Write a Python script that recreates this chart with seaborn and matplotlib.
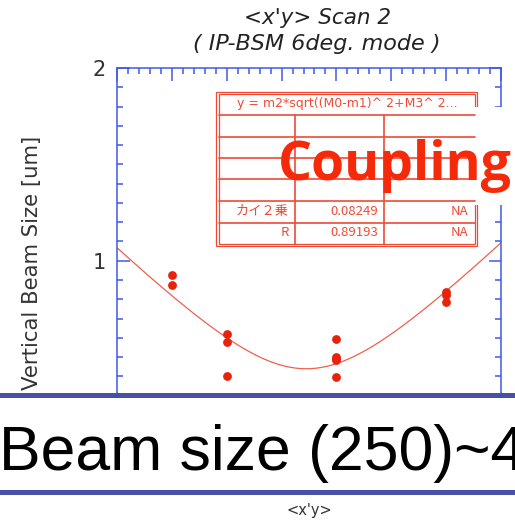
import numpy as np
import matplotlib
matplotlib.use("Agg")
import matplotlib.pyplot as plt
from matplotlib.patches import Rectangle
from matplotlib.ticker import MultipleLocator, FixedLocator
import seaborn as sns

# knob setting of each measurement and the measured vertical beam size [um]
scan_x = [10, 10, 20, 20, 20, 40, 40, 40, 40, 40, 60, 60, 60]
beam_size = [0.927, 0.872, 0.620, 0.578, 0.402, 0.595, 0.503, 0.490, 0.483,
             0.396, 0.838, 0.824, 0.784]

# fit y = m2*sqrt((M0-m1)^2 + M3^2)
fit_m1 = 34.5
fit_m2 = 0.0282
fit_m3 = 15.6
fit_rows = [["カイ２乗", "0.08249", "NA"], ["R", "0.89193", "NA"]]
fit_formula = "y = m2*sqrt((M0-m1)^ 2+M3^ 2..."

y_ticks = [1, 2]
y_tick_labels = ["1", "2"]

title_lines = ["<x'y> Scan 2", "( IP-BSM 6deg. mode )"]
y_label = "Vertical Beam Size [um]"
x_label = "<x'y>"
overlay_word = "Coupling"
banner_text = "Beam size (250)~4"

sns.set_style("white")
plt.rcParams["font.family"] = ["DejaVu Sans"]

W, H = 515, 524
fig = plt.figure(figsize=(W / 100, H / 100), dpi=100)

axis_blue = "#4058e4"
point_red = "#e8230c"
fit_red = "#f0604c"
table_red = "#f04a35"

# main scan axes
ax = fig.add_axes([117 / W, 1 - 415 / H, 384 / W, 347 / H])
x_fit = np.linspace(0, 70, 300)
y_fit = fit_m2 * np.sqrt((x_fit - fit_m1) ** 2 + fit_m3 ** 2)
sns.lineplot(x=x_fit, y=y_fit, ax=ax, color=fit_red, lw=0.9, zorder=2)
sns.scatterplot(x=scan_x, y=beam_size, ax=ax, s=40, color=point_red,
                linewidth=0, zorder=3)

ax.set_xlim(0, 70)
ax.set_ylim(0.2, 2.0)
ax.xaxis.set_major_locator(MultipleLocator(10))
ax.xaxis.set_minor_locator(MultipleLocator(2))
ax.yaxis.set_major_locator(FixedLocator(y_ticks))
ax.yaxis.set_minor_locator(MultipleLocator(0.1))
ax.set_yticklabels(y_tick_labels)
ax.tick_params(which="both", direction="in", top=True, bottom=True,
               left=True, right=True, color=axis_blue, width=1.1,
               labelbottom=False, labeltop=False, labelright=False)
ax.tick_params(which="major", length=9)
ax.tick_params(which="minor", length=4.5)
ax.tick_params(axis="y", labelsize=15, labelcolor="#333333", pad=8)
for sp in ax.spines.values():
    sp.set_color(axis_blue)
    sp.set_linewidth(1.1)
ax.set_xlabel("")
ax.set_ylabel("")

# overlay in pixel coordinates for annotations
ov = fig.add_axes([0, 0, 1, 1])
ov.set_xlim(0, W)
ov.set_ylim(H, 0)
ov.axis("off")
ov.set_zorder(5)
ov.patch.set_alpha(0)

for i, (line, size) in enumerate(zip(title_lines, [15.5, 16])):
    ov.text(317, 17.5 + 27 * i, line, ha="center", va="center",
            fontsize=size, style="italic", color="#222222")

ov.text(32.5, 263, y_label, rotation=90, ha="center", va="center",
        fontsize=15.3, color="#333333")

# fit result table
ov.add_patch(Rectangle((216, 91.5), 261, 154.5, fill=False,
                       ec=table_red, lw=0.9))
ov.add_patch(Rectangle((218.5, 94), 256, 149.5, fill=False,
                       ec=table_red, lw=0.9))
for yy in [115, 136.7, 158.3, 179.3, 200.7, 222.7]:
    ov.plot([218.5, 474.5], [yy, yy], color=table_red, lw=1.2)
for xx in [295, 384]:
    ov.plot([xx, xx], [115, 243.5], color=table_red, lw=1.2)
ov.text(347, 104, fit_formula, ha="center", va="center", fontsize=9,
        color=table_red)
for r, row in enumerate(fit_rows):
    yy = 211.7 + 21 * r
    for xx, cell in zip([289, 378, 468], row):
        ov.text(xx, yy, cell, ha="right", va="center", fontsize=9.5,
                color=table_red,
                family=["Noto Sans CJK JP", "DejaVu Sans"])

# highlighted label box
ov.add_patch(Rectangle((258, 107), 262, 98, color="white", lw=0))
ov.text(278, 180, overlay_word, ha="left", va="baseline", fontsize=38.5,
        fontweight="bold", family="Open Sans", color="#f52a0a")

# banner strip across the lower part
ov.add_patch(Rectangle((0, 393), W, 102, color="white", lw=0))
ov.add_patch(Rectangle((0, 393), W, 4.5, color="#4850a8", lw=0))
ov.add_patch(Rectangle((0, 489.5), W, 5.5, color="#4850a8", lw=0))
ov.text(-1, 470, banner_text, ha="left", va="baseline", fontsize=45,
        family="Liberation Sans", color="black")

ov.text(309, 511, x_label, ha="center", va="center", fontsize=10.5,
        color="#333333")

fig.savefig("out.png", dpi=100)
